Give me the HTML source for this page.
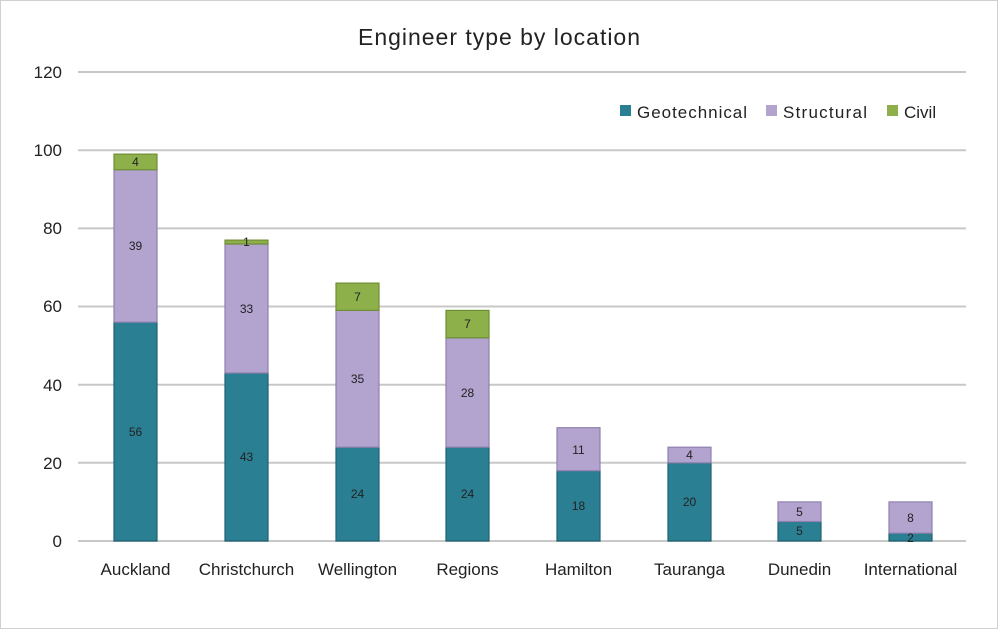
<!DOCTYPE html>
<html><head><style>body{margin:0;background:#fff}svg{display:block}text{font-family:"Liberation Sans",sans-serif}</style></head><body>
<svg width="998" height="629" viewBox="0 0 998 629" xmlns="http://www.w3.org/2000/svg">
<rect x="0.5" y="0.5" width="997" height="628" fill="#fff" stroke="#d0d0d0"/>
<text x="499" y="45" font-size="23" text-anchor="middle" fill="#222" textLength="282">Engineer type by location</text>
<g stroke="#c8c8c8" stroke-width="2">
<line x1="78" x2="966" y1="72" y2="72"/><line x1="78" x2="966" y1="150.2" y2="150.2"/><line x1="78" x2="966" y1="228.4" y2="228.4"/><line x1="78" x2="966" y1="306.5" y2="306.5"/><line x1="78" x2="966" y1="384.7" y2="384.7"/><line x1="78" x2="966" y1="462.8" y2="462.8"/><line x1="78" x2="966" y1="541" y2="541"/>
</g>
<g font-size="17" fill="#222" text-anchor="end">
<text x="62" y="78">120</text><text x="62" y="156">100</text><text x="62" y="234">80</text><text x="62" y="312">60</text><text x="62" y="391">40</text><text x="62" y="469">20</text><text x="62" y="547">0</text>
</g>
<g stroke-width="1.2">
<g fill="#2a7f93" stroke="#1f6272">
<rect x="114" y="322.2" width="43" height="218.8"/><rect x="225" y="373" width="43" height="168"/><rect x="336" y="447.2" width="43" height="93.8"/><rect x="446" y="447.2" width="43" height="93.8"/><rect x="557" y="470.7" width="43" height="70.3"/><rect x="668" y="462.8" width="43" height="78.2"/><rect x="778" y="521.5" width="43" height="19.5"/><rect x="889" y="533.2" width="43" height="7.8"/>
</g>
<g fill="#b3a3cf" stroke="#8f80ad">
<rect x="114" y="169.7" width="43" height="152.5"/><rect x="225" y="244" width="43" height="129"/><rect x="336" y="310.4" width="43" height="136.8"/><rect x="446" y="337.8" width="43" height="109.4"/><rect x="557" y="427.7" width="43" height="43"/><rect x="668" y="447.2" width="43" height="15.6"/><rect x="778" y="501.9" width="43" height="19.6"/><rect x="889" y="501.9" width="43" height="31.3"/>
</g>
<g fill="#8db04a" stroke="#6f8f35">
<rect x="114" y="154.1" width="43" height="15.6"/><rect x="225" y="240.1" width="43" height="3.9"/><rect x="336" y="283.1" width="43" height="27.3"/><rect x="446" y="310.4" width="43" height="27.4"/>
</g>
</g>
<g font-size="12" fill="#222" text-anchor="middle">
<text x="135.5" y="436">56</text><text x="135.5" y="250">39</text><text x="135.5" y="166">4</text>
<text x="246.5" y="461">43</text><text x="246.5" y="313">33</text><text x="246.5" y="246">1</text>
<text x="357.5" y="498">24</text><text x="357.5" y="383">35</text><text x="357.5" y="301">7</text>
<text x="467.5" y="498">24</text><text x="467.5" y="397">28</text><text x="467.5" y="328">7</text>
<text x="578.5" y="510">18</text><text x="578.5" y="454">11</text>
<text x="689.5" y="506">20</text><text x="689.5" y="459">4</text>
<text x="799.5" y="535">5</text><text x="799.5" y="516">5</text>
<text x="910.5" y="542">2</text><text x="910.5" y="522">8</text>
</g>
<g font-size="17" fill="#222" text-anchor="middle">
<text x="135.5" y="575">Auckland</text><text x="246.5" y="575">Christchurch</text><text x="357.5" y="575">Wellington</text><text x="467.5" y="575">Regions</text><text x="578.5" y="575">Hamilton</text><text x="689.5" y="575">Tauranga</text><text x="799.5" y="575">Dunedin</text><text x="910.5" y="575">International</text>
</g>
<g font-size="17" fill="#222">
<rect x="620" y="105" width="11" height="11" fill="#2a7f93"/><text x="637" y="118" textLength="110">Geotechnical</text>
<rect x="766" y="105" width="11" height="11" fill="#b3a3cf"/><text x="783" y="118" textLength="84">Structural</text>
<rect x="887" y="105" width="11" height="11" fill="#8db04a"/><text x="904" y="118">Civil</text>
</g>
</svg>
</body></html>
